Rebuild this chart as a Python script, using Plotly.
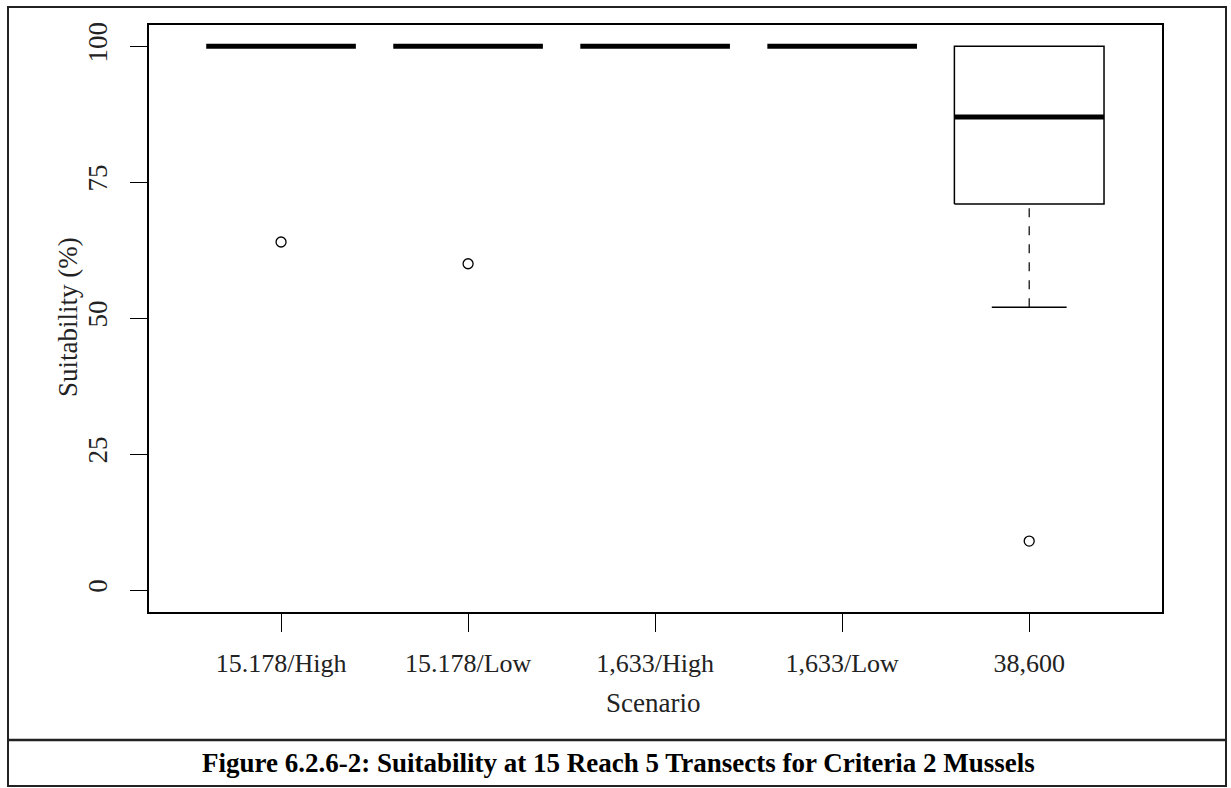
import plotly.graph_objects as go

# ---- data ----
scenarios = ["15.178/High", "15.178/Low", "1,633/High", "1,633/Low", "38,600"]
q1 = [100, 100, 100, 100, 71]
median = [100, 100, 100, 100, 87]
q3 = [100, 100, 100, 100, 100]
lower_whisker = [100, 100, 100, 100, 52]
upper_whisker = [100, 100, 100, 100, 100]
outliers = [[64], [60], [], [], [9]]

y_ticks = [0, 25, 50, 75, 100]
caption = "Figure 6.2.6-2: Suitability at 15 Reach 5 Transects for Criteria 2 Mussels"

W, H = 1231, 788
L, R, T, B = 149, 69, 25, 176
FONT = "Liberation Serif, Times New Roman, serif"


def px_x(p):
    return (p - L) / (W - L - R)


def px_y(p):
    return (H - B - p) / (H - T - B)


half = 0.4   # half box width
cap = 0.2    # half staple width

fig = go.Figure()

for i, name in enumerate(scenarios):
    x = i + 1
    # box outline
    if q3[i] > q1[i]:
        fig.add_trace(go.Scatter(
            x=[x - half, x + half, x + half, x - half, x - half],
            y=[q1[i], q1[i], q3[i], q3[i], q1[i]],
            mode="lines", line=dict(color="black", width=1.5),
            hoverinfo="skip", showlegend=False))
    # whiskers (dashed) + staples
    for lo, hi in ((lower_whisker[i], q1[i]), (q3[i], upper_whisker[i])):
        if hi > lo:
            fig.add_trace(go.Scatter(
                x=[x, x], y=[lo, hi], mode="lines",
                line=dict(color="black", width=1.2, dash="dash"),
                hoverinfo="skip", showlegend=False))
    if lower_whisker[i] < q1[i]:
        fig.add_trace(go.Scatter(
            x=[x - cap, x + cap], y=[lower_whisker[i]] * 2, mode="lines",
            line=dict(color="black", width=1.5),
            hoverinfo="skip", showlegend=False))
    if upper_whisker[i] > q3[i]:
        fig.add_trace(go.Scatter(
            x=[x - cap, x + cap], y=[upper_whisker[i]] * 2, mode="lines",
            line=dict(color="black", width=1.5),
            hoverinfo="skip", showlegend=False))
    # median (thick)
    fig.add_trace(go.Scatter(
        x=[x - half, x + half], y=[median[i]] * 2, mode="lines",
        line=dict(color="black", width=5),
        hoverinfo="skip", showlegend=False))
    # outliers
    if outliers[i]:
        fig.add_trace(go.Scatter(
            x=[x] * len(outliers[i]), y=outliers[i], mode="markers",
            marker=dict(symbol="circle-open", size=10,
                        line=dict(color="black", width=1.3), color="black"),
            hoverinfo="skip", showlegend=False))

# ---- frames ----
fig.add_shape(type="rect", xref="paper", yref="paper",
              x0=px_x(8), x1=px_x(1226), y0=px_y(786), y1=px_y(7),
              line=dict(color="#222", width=2))
fig.add_shape(type="line", xref="paper", yref="paper",
              x0=px_x(8), x1=px_x(1226), y0=px_y(740), y1=px_y(740),
              line=dict(color="#222", width=2.5))

fig.add_annotation(text="<b>" + caption + "</b>", xref="paper", yref="paper",
                   x=px_x(618), y=px_y(763), showarrow=False,
                   xanchor="center", yanchor="middle",
                   font=dict(family=FONT, size=27, color="black"))

fig.add_annotation(text="Suitability (%)", xref="paper", yref="paper",
                   x=px_x(68), y=px_y(317), showarrow=False, textangle=-90,
                   xanchor="center", yanchor="middle",
                   font=dict(family=FONT, size=27, color="#222"))
fig.add_annotation(text="Scenario", xref="paper", yref="paper",
                   x=px_x(653), y=px_y(703), showarrow=False,
                   xanchor="center", yanchor="middle",
                   font=dict(family=FONT, size=27, color="#222"))

fig.update_layout(
    width=W, height=H,
    margin=dict(l=L, r=R, t=T, b=B),
    paper_bgcolor="white", plot_bgcolor="white",
    font=dict(family=FONT, size=26, color="#222"),
    xaxis=dict(
        range=[0.294, 5.71],
        tickmode="array", tickvals=[i + 1 for i in range(len(scenarios))],
        ticktext=scenarios,
        ticks="outside", ticklen=18, tickwidth=1.2, tickcolor="black",
        ticklabelstandoff=9,
        showline=True, mirror=True, linecolor="black", linewidth=1.5,
        showgrid=False, zeroline=False,
    ),
    yaxis=dict(
        range=[-4.04, 103.9],
        tickmode="array", tickvals=y_ticks, ticktext=[str(v) for v in y_ticks],
        tickangle=-90, tickfont=dict(size=27),
        ticks="outside", ticklen=17, tickwidth=1.2, tickcolor="black",
        ticklabelstandoff=12,
        showline=True, mirror=True, linecolor="black", linewidth=1.5,
        showgrid=False, zeroline=False,
    ),
)

fig.write_html("out.html", config={"displayModeBar": False},
               post_script="document.body.style.margin='0';")
